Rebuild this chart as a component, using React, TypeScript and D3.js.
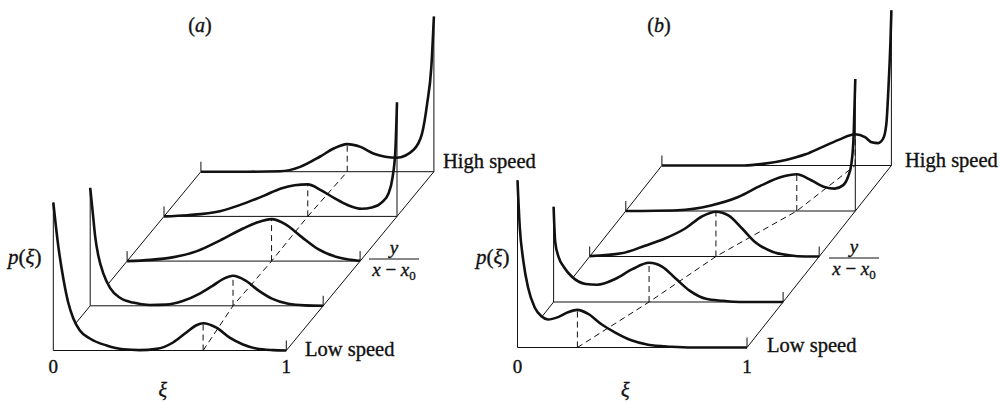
import React, { useEffect, useRef } from 'react';
import * as d3 from 'd3';

type Pt = [number, number];

const W = 1001;
const H = 403;

// Probability density profiles p(ξ) at five stations, front (low speed) to back (high speed).
// Panel (a)
const profileA0: Pt[] = [
  [0, 3.7], [0.021, 2.63], [0.043, 1.8], [0.064, 1.2], [0.086, 0.8], [0.114, 0.5], [0.157, 0.3],
  [0.229, 0.125], [0.3, 0.03], [0.37, 0.01], [0.443, 0.04], [0.514, 0.2], [0.571, 0.45],
  [0.614, 0.63], [0.643, 0.68], [0.7, 0.57], [0.757, 0.32], [0.814, 0.15], [0.871, 0.05],
  [0.943, 0.01], [1, 0],
];
const profileA1: Pt[] = [
  [0, 2.95], [0.011, 2.33], [0.021, 1.75], [0.035, 1.25], [0.057, 0.8], [0.085, 0.45],
  [0.128, 0.2], [0.184, 0.08], [0.255, 0.02], [0.326, 0.03], [0.397, 0.12], [0.468, 0.3],
  [0.525, 0.5], [0.574, 0.68], [0.613, 0.75], [0.667, 0.63], [0.723, 0.38], [0.78, 0.18],
  [0.85, 0.05], [0.922, 0.01], [1, 0],
];
const profileA2: Pt[] = [
  [0, 0], [0.1, 0.03], [0.2, 0.1], [0.3, 0.25], [0.4, 0.52], [0.5, 0.82], [0.56, 0.97],
  [0.62, 1.05], [0.68, 0.92], [0.75, 0.6], [0.82, 0.3], [0.9, 0.1], [0.95, 0.04], [1, 0.01],
];
const profileA3: Pt[] = [
  [0, 0], [0.1, 0.03], [0.24, 0.13], [0.357, 0.35], [0.43, 0.52], [0.502, 0.7], [0.56, 0.78],
  [0.617, 0.8], [0.675, 0.65], [0.733, 0.45], [0.79, 0.28], [0.848, 0.19], [0.892, 0.22],
  [0.935, 0.35], [0.964, 0.58], [0.981, 0.98], [0.993, 1.65], [1, 2.85],
];
const profileA4: Pt[] = [
  [0, 0], [0.2, 0], [0.34, 0.01], [0.426, 0.12], [0.512, 0.38], [0.57, 0.58], [0.628, 0.69],
  [0.685, 0.62], [0.743, 0.45], [0.84, 0.35], [0.913, 0.55], [0.949, 0.95], [0.971, 1.7],
  [0.989, 2.62], [1, 3.88],
];
const peaksA = [0.643, 0.613, 0.62, 0.617, 0.628];

// Panel (b)
const profileB0: Pt[] = [
  [0, 4.18], [0.01, 3.0], [0.025, 2.18], [0.046, 1.5], [0.075, 1.0], [0.104, 0.78],
  [0.133, 0.7], [0.177, 0.76], [0.22, 0.88], [0.261, 0.94], [0.308, 0.84], [0.366, 0.58],
  [0.424, 0.38], [0.496, 0.18], [0.569, 0.07], [0.67, 0.02], [0.76, 0], [1, 0],
];
const profileB1: Pt[] = [
  [0, 2.38], [0.007, 1.5], [0.022, 1.12], [0.044, 0.88], [0.08, 0.63], [0.14, 0.45],
  [0.19, 0.43], [0.27, 0.58], [0.343, 0.82], [0.416, 0.98], [0.474, 0.88], [0.533, 0.58],
  [0.591, 0.29], [0.664, 0.08], [0.737, 0.03], [0.81, 0], [1, 0],
];
const profileB2: Pt[] = [
  [0, 0.01], [0.139, 0.08], [0.241, 0.27], [0.328, 0.45], [0.416, 0.7], [0.489, 1.0],
  [0.55, 1.12], [0.606, 1.02], [0.664, 0.7], [0.723, 0.35], [0.796, 0.12], [0.869, 0.03],
  [0.942, 0], [1, 0],
];
const profileB3: Pt[] = [
  [0, 0], [0.226, 0.02], [0.371, 0.14], [0.49, 0.35], [0.59, 0.64], [0.677, 0.85],
  [0.745, 0.92], [0.808, 0.77], [0.866, 0.6], [0.91, 0.56], [0.946, 0.64], [0.968, 0.85],
  [0.983, 1.18], [0.993, 1.92], [1, 3.3],
];
const profileB4: Pt[] = [
  [0, 0], [0.36, 0], [0.439, 0.04], [0.54, 0.14], [0.626, 0.28], [0.698, 0.46], [0.77, 0.64],
  [0.842, 0.78], [0.885, 0.71], [0.914, 0.58], [0.942, 0.56], [0.964, 0.67], [0.978, 1.04],
  [0.988, 2.04], [0.996, 3.12], [1, 3.88],
];
const peaksB = [0.261, 0.416, 0.55, 0.745, 0.842];

const xiTicks = ['0', '1'];

interface Panel {
  tag: string;
  profiles: Pt[][];
  peaks: number[];
  origin: [number, number];
  step: [number, number];
  width: number;
  pLabelX: number;
  lowX: number;
  lowY: number;
  highX: number;
  highY: number;
  fracX: number;
  fracY: number;
  tagX: number;
}

const panels: Panel[] = [
  {
    tag: 'a', profiles: [profileA0, profileA1, profileA2, profileA3, profileA4], peaks: peaksA,
    origin: [53.3, 350.5], step: [36.9, -44.7], width: 233,
    pLabelX: 8, lowX: 305, lowY: 356, highX: 443, highY: 168, fracX: 394, fracY: 259, tagX: 200,
  },
  {
    tag: 'b', profiles: [profileB0, profileB1, profileB2, profileB3, profileB4], peaks: peaksB,
    origin: [517.5, 347.5], step: [36.1, -45.5], width: 229.5,
    pLabelX: 476, lowX: 767, lowY: 352, highX: 905, highY: 167, fracX: 854, fracY: 258, tagX: 659,
  },
];

const FONT = 'Liberation Serif';
const INK = '#111';

function valueAt(profile: Pt[], xi: number): number {
  if (xi <= profile[0][0]) return profile[0][1];
  for (let i = 1; i < profile.length; i++) {
    const [x1, y1] = profile[i];
    const [x0, y0] = profile[i - 1];
    if (xi <= x1) return y0 + ((y1 - y0) * (xi - x0)) / (x1 - x0);
  }
  return profile[profile.length - 1][1];
}

type G = d3.Selection<SVGGElement, unknown, null, undefined>;

function label(parent: G, x: number, y: number, size: number) {
  return parent.append('text')
    .attr('x', x).attr('y', y)
    .attr('font-size', size)
    .style('font-family', `'${FONT}'`)
    .attr('fill', INK)
    .attr('stroke', INK)
    .attr('stroke-width', 0.35);
}

function drawPanel(g: G, P: Panel) {
  const n = P.profiles.length;
  const xi = d3.scaleLinear().domain([0, 1]).range([0, P.width]);
  const pz = d3.scaleLinear().domain([0, 1]).range([0, 40]);
  const bx = (k: number) => P.origin[0] + k * P.step[0];
  const by = (k: number) => P.origin[1] + k * P.step[1];
  const tick = 10;

  const floor = g.append('g').attr('stroke', INK).attr('stroke-width', 1).attr('fill', 'none');

  // baselines and end verticals
  P.profiles.forEach((prof, k) => {
    floor.append('line').attr('x1', bx(k)).attr('y1', by(k)).attr('x2', bx(k) + xi(1)).attr('y2', by(k));
    const hl = Math.max(tick, pz(prof[0][1]));
    const hr = Math.max(tick, pz(prof[prof.length - 1][1]));
    floor.append('line').attr('x1', bx(k)).attr('y1', by(k)).attr('x2', bx(k)).attr('y2', by(k) - hl);
    floor.append('line').attr('x1', bx(k) + xi(1)).attr('y1', by(k)).attr('x2', bx(k) + xi(1)).attr('y2', by(k) - hr);
  });

  // right oblique edge
  floor.append('line')
    .attr('x1', bx(0) + xi(1)).attr('y1', by(0))
    .attr('x2', bx(n - 1) + xi(1)).attr('y2', by(n - 1));

  // left oblique edges, hidden where they pass behind the nearer profile
  for (let k = 0; k < n - 1; k++) {
    const prof = P.profiles[k];
    let t0 = 0;
    for (let t = 0; t <= 1; t += 0.002) {
      const rise = t * Math.abs(P.step[1]);
      const h = pz(valueAt(prof, xi.invert(t * P.step[0])));
      if (rise > h) { t0 = t; break; }
    }
    floor.append('line')
      .attr('x1', bx(k) + t0 * P.step[0]).attr('y1', by(k) + t0 * P.step[1])
      .attr('x2', bx(k + 1)).attr('y2', by(k + 1));
  }

  // dashed peak markers and the ridge line joining them
  const dash = g.append('g').attr('stroke', INK).attr('stroke-width', 1).attr('fill', 'none')
    .attr('stroke-dasharray', '6,4');
  P.peaks.forEach((pk, k) => {
    const x = bx(k) + xi(pk);
    dash.append('line').attr('x1', x).attr('y1', by(k)).attr('x2', x)
      .attr('y2', by(k) - pz(valueAt(P.profiles[k], pk)));
  });
  const ridge = d3.line<number>()
    .x((pk, k) => bx(k) + xi(pk))
    .y((_pk, k) => by(k));
  dash.append('path').attr('d', ridge(P.peaks) ?? '');

  // density curves
  P.profiles.forEach((prof, k) => {
    const line = d3.line<Pt>()
      .x((d) => bx(k) + xi(d[0]))
      .y((d) => by(k) - pz(d[1]))
      .curve(d3.curveMonotoneX);
    g.append('path').attr('d', line(prof) ?? '').attr('fill', 'none')
      .attr('stroke', INK).attr('stroke-width', 2.6).attr('stroke-linejoin', 'round');
  });

  // text
  const tagT = label(g, P.tagX, 32, 20).attr('text-anchor', 'middle');
  tagT.append('tspan').text('(');
  tagT.append('tspan').attr('font-style', 'italic').text(P.tag);
  tagT.append('tspan').text(')');

  const pT = label(g, P.pLabelX, 264, 21);
  pT.append('tspan').attr('font-style', 'italic').text('p');
  pT.append('tspan').text('(');
  pT.append('tspan').attr('font-style', 'italic').text('ξ');
  pT.append('tspan').text(')');

  xiTicks.forEach((lab, i) => {
    label(g, bx(0) + xi(i), 373, 19).attr('text-anchor', 'middle').text(lab);
  });
  label(g, bx(0) + xi(0.47), 397, 20).attr('text-anchor', 'middle').attr('font-style', 'italic').text('ξ');

  label(g, P.lowX, P.lowY, 20.5).text('Low speed');
  label(g, P.highX, P.highY, 20.5).text('High speed');

  // y / (x − x0)
  g.append('line').attr('x1', P.fracX - 25).attr('x2', P.fracX + 25)
    .attr('y1', P.fracY).attr('y2', P.fracY).attr('stroke', INK).attr('stroke-width', 1);
  label(g, P.fracX, P.fracY - 5, 19).attr('text-anchor', 'middle').attr('font-style', 'italic').text('y');
  const den = label(g, P.fracX, P.fracY + 17, 19).attr('text-anchor', 'middle');
  den.append('tspan').attr('font-style', 'italic').text('x');
  den.append('tspan').text(' − ');
  den.append('tspan').attr('font-style', 'italic').text('x');
  den.append('tspan').attr('font-size', 13).attr('dy', 4).text('0');
}

export default function App() {
  const ref = useRef<SVGSVGElement | null>(null);
  useEffect(() => {
    const svg = d3.select(ref.current!);
    svg.selectAll('*').remove();
    svg.append('rect').attr('width', W).attr('height', H).attr('fill', '#fff');
    panels.forEach((P) => drawPanel(svg.append('g'), P));
  }, []);
  return (
    <svg ref={ref} width={W} height={H} style={{ position: 'absolute', left: 0, top: 0, display: 'block' }} />
  );
}
